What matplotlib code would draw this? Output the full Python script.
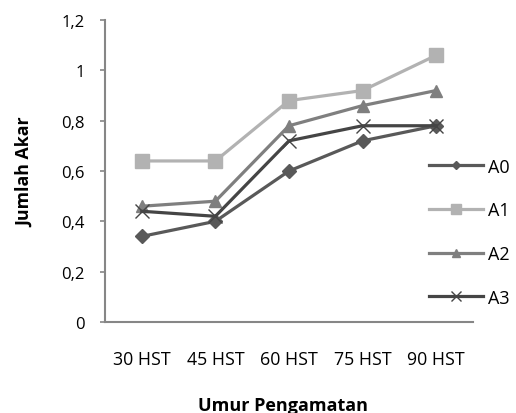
import matplotlib
matplotlib.use("Agg")
import matplotlib.pyplot as plt

categories = ["30 HST", "45 HST", "60 HST", "75 HST", "90 HST"]
series_names = ["A0", "A1", "A2", "A3"]
a0 = [0.34, 0.40, 0.60, 0.72, 0.78]
a1 = [0.64, 0.64, 0.88, 0.92, 1.06]
a2 = [0.46, 0.48, 0.78, 0.86, 0.92]
a3 = [0.44, 0.42, 0.72, 0.78, 0.78]
y_ticks = [0, 0.2, 0.4, 0.6, 0.8, 1.0, 1.2]
y_tick_labels = ["0", "0,2", "0,4", "0,6", "0,8", "1", "1,2"]

plt.rcParams['font.family'] = ['Open Sans', 'DejaVu Sans']

fig = plt.figure(figsize=(5.16, 4.14), dpi=100)
ax = fig.add_axes([0.2035, 0.22, 0.713, 0.729])

x = [i + 0.5 for i in range(len(categories))]
styles = [
    (a0, "#595959", "D", 7),
    (a1, "#b2b2b2", "s", 10),
    (a2, "#7f7f7f", "^", 9),
    (a3, "#454545", "x", 10),
]
handles = []
for (vals, col, mk, ms), name in zip(styles, series_names):
    kw = dict(color=col, lw=2.3, marker=mk, markersize=ms, label=name)
    if mk == "x":
        kw.update(markeredgewidth=1.0, markeredgecolor=col)
    h, = ax.plot(x, vals, **kw)
    handles.append(h)

ax.set_xlim(0, 5)
ax.set_ylim(0, 1.2)
ax.set_yticks(y_ticks)
ax.set_yticklabels(y_tick_labels, fontsize=12)
ax.set_xticks(x)
ax.set_xticklabels(categories, fontsize=12.8)
ax.tick_params(axis='x', length=0, pad=20)
ax.tick_params(axis='y', length=3.6, color="#868686", width=1.2, pad=11)
for s in ["top", "right"]:
    ax.spines[s].set_visible(False)
for s in ["left", "bottom"]:
    ax.spines[s].set_color("#868686")
    ax.spines[s].set_linewidth(1.5)

fig.text(0.048, 0.584, "Jumlah Akar", rotation=90, fontsize=12.8, fontweight='bold',
         ha='center', va='center')
fig.text(0.549, 0.02, "Umur Pengamatan", fontsize=13, fontweight='bold',
         ha='center', va='center')

fig.legend(handles=handles, loc='center left', bbox_to_anchor=(0.831, 0.437),
           frameon=False, fontsize=13, handlelength=3.0, handletextpad=0.28,
           labelspacing=1.42, borderaxespad=0, borderpad=0, markerscale=0.65)

fig.savefig("out.png", dpi=100)
